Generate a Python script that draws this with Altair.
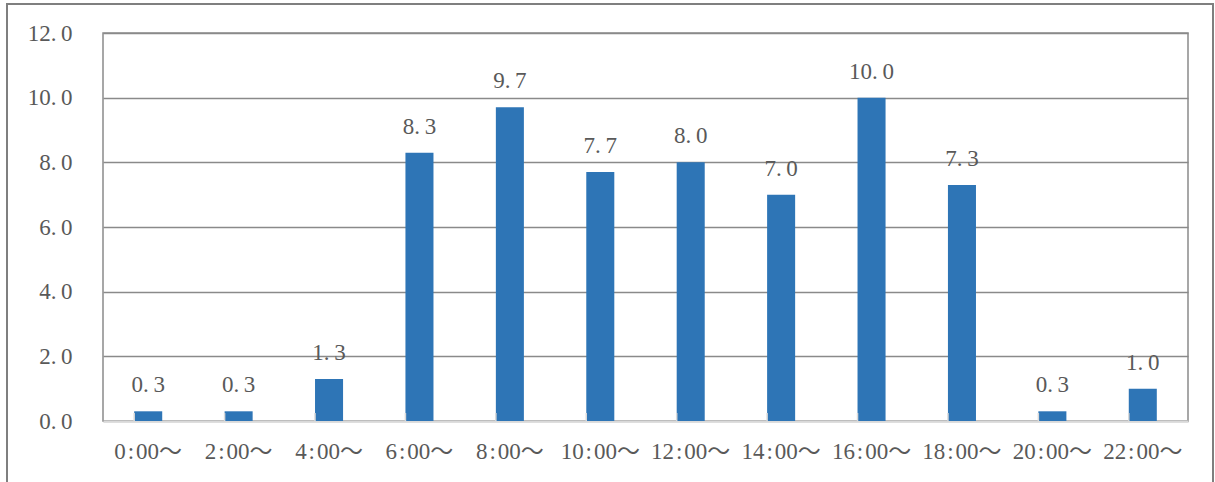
import altair as alt
import pandas as pd

hours = ["0:00～", "2:00～", "4:00～", "6:00～", "8:00～", "10:00～",
         "12:00～", "14:00～", "16:00～", "18:00～", "20:00～", "22:00～"]
values = [0.3, 0.3, 1.3, 8.3, 9.7, 7.7, 8.0, 7.0, 10.0, 7.3, 0.3, 1.0]
y_ticks = [0, 2, 4, 6, 8, 10, 12]

df = pd.DataFrame({"hour": hours, "value": values})

FONT = "Liberation Serif, Noto Sans CJK JP"
TEXT = "#595959"
SIZE = 23
W, H = 1085, 388

# widen the decimal point and the colon a little, in the style of a Mincho face
num_expr = "replace(format(datum.value, '.1f'), '.', '.\u2009')"
hour_expr = "replace(datum.label, ':', '\u200a:\u200a')"

x_enc = alt.X("hour:N", sort=hours, title=None,
              scale=alt.Scale(paddingInner=0.69, paddingOuter=0.345),
              axis=alt.Axis(labelAngle=0, labelFont=FONT, labelFontSize=SIZE,
                            labelColor=TEXT, labelPadding=19, ticks=False,
                            labelExpr=hour_expr,
                            domainColor="#d9d9d9", domainWidth=2))
y_enc = alt.Y("value:Q", title=None,
              scale=alt.Scale(domain=[0, 12], nice=False),
              axis=alt.Axis(values=y_ticks, labelFont=FONT,
                            labelFontSize=SIZE, labelColor=TEXT, labelPadding=31,
                            labelExpr=num_expr,
                            ticks=False, domain=False, gridColor="#8a8a8a",
                            gridWidth=1.5))

bars = alt.Chart(df).mark_bar(color="#2E75B6").encode(x=x_enc, y=y_enc)

labels = alt.Chart(df).transform_calculate(
    txt=num_expr
).mark_text(
    baseline="alphabetic", dy=-19, font=FONT, fontSize=SIZE, color=TEXT
).encode(x=alt.X("hour:N", sort=hours), y="value:Q", text="txt:N")

# short inward ticks on the category boundaries
ticks = alt.Chart(df).mark_rule(color="#d9d9d9", strokeWidth=1.5).encode(
    x=alt.X("hour:N", sort=hours, bandPosition=0),
    y=alt.value(H - 8), y2=alt.value(H)
)

# frame drawn around the whole figure
frame = alt.Chart(df).mark_rect(
    fill=None, stroke="#7f7f7f", strokeWidth=2
).encode(x=alt.value(-96), x2=alt.value(W + 25),
         y=alt.value(-29), y2=alt.value(H + 80))

chart = alt.layer(frame, bars, ticks, labels).properties(
    width=W, height=H,
    autosize=alt.AutoSizeParams(type="none"),
    padding={"left": 103, "top": 33, "right": 27, "bottom": 61},
    background="white",
).configure_view(stroke="#8a8a8a", strokeWidth=1.5)

chart.save("out.html", embed_options={"renderer": "svg", "actions": False})
